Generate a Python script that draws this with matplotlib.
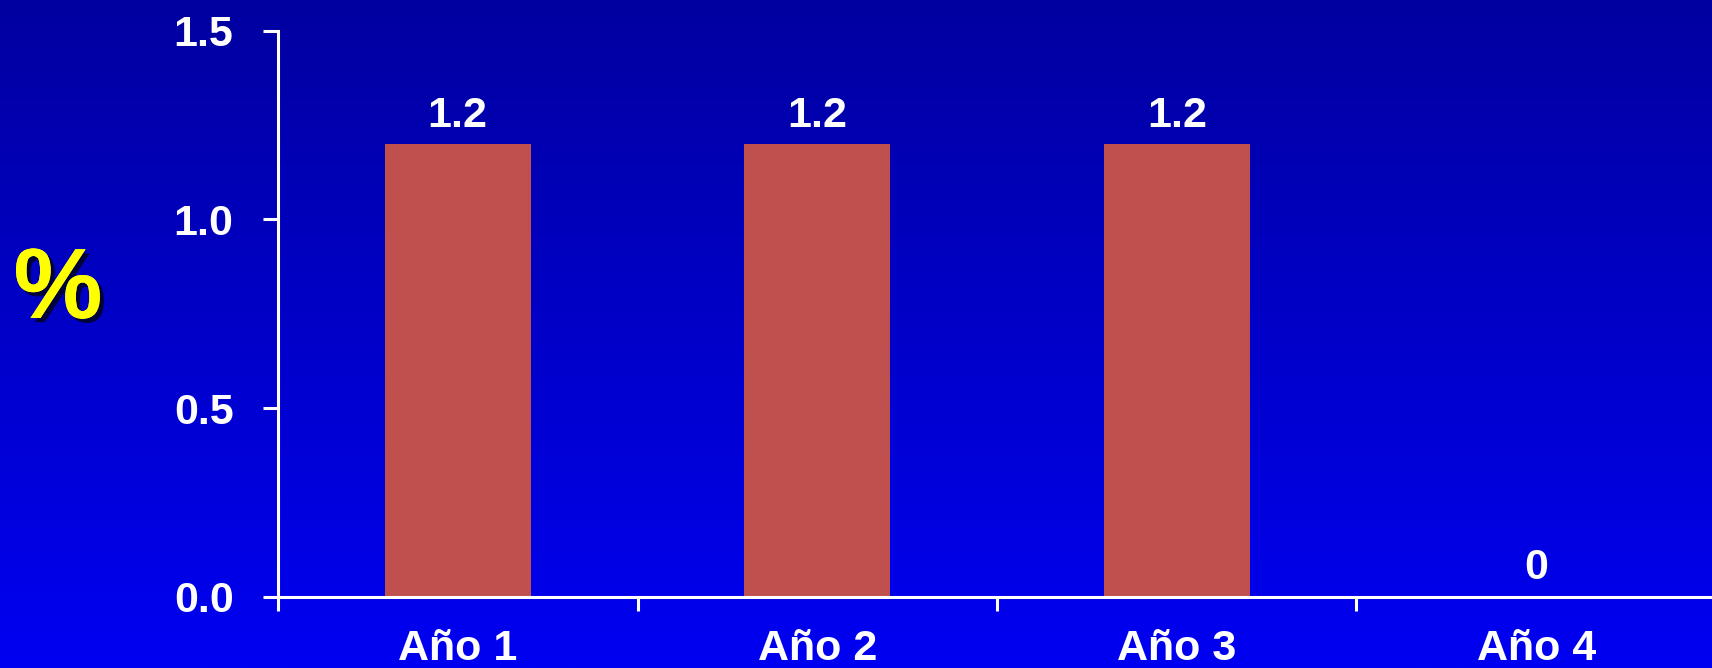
import numpy as np
import matplotlib
matplotlib.use('Agg')
import matplotlib.pyplot as plt
import matplotlib.patheffects as pe

categories = ['Año 1', 'Año 2', 'Año 3', 'Año 4']
values = [1.2, 1.2, 1.2, 0]
value_labels = ['1.2', '1.2', '1.2', '0']
yticks = [0.0, 0.5, 1.0, 1.5]

plt.rcParams['font.family'] = ['Liberation Sans', 'DejaVu Sans']
plt.rcParams['font.weight'] = 'bold'

fig = plt.figure(figsize=(17.12, 6.68), dpi=100)

# vertical blue gradient for the slide background
bg = fig.add_axes([0, 0, 1, 1], zorder=0)
grad = np.linspace(0, 1, 256).reshape(-1, 1)
top = np.array([0, 0, 160]) / 255
bottom = np.array([0, 0, 242]) / 255
img = top + (bottom - top) * grad[:, :, None]
bg.imshow(img, aspect='auto', extent=[0, 1, 0, 1], origin='upper')
bg.axis('off')

# axes run past the right edge so the baseline reaches the border
ax = fig.add_axes([278 / 1712, 1 - 596.7 / 668, 1438 / 1712, 566 / 668], zorder=1)
ax.patch.set_visible(False)

x = np.arange(len(categories)) + 0.5
ax.bar(x, values, width=0.405, color='#C0504D', zorder=2)
for xi, v, lab in zip(x, values, value_labels):
    ax.annotate(lab, (xi, v), xytext=(0, 6), textcoords='offset points',
                ha='center', va='bottom', color='white', fontsize=31, fontweight='bold')

ax.set_xlim(0, 4)
ax.set_ylim(0, 1.5)
ax.set_yticks(yticks)
ax.set_yticklabels([f'{t:.1f}' for t in yticks])
ax.set_xticks([0, 1, 2, 3])
ax.set_xticklabels([])
ax.set_xticks(x, minor=True)
ax.set_xticklabels(categories, minor=True)

for s in ['top', 'right']:
    ax.spines[s].set_visible(False)
for s in ['left', 'bottom']:
    ax.spines[s].set_color('white')
    ax.spines[s].set_linewidth(2.2)

ax.tick_params(axis='y', colors='white', labelsize=31, width=2.2, length=11, pad=21)
ax.tick_params(axis='x', which='major', colors='white', width=2.2, length=10, direction='out')
ax.tick_params(axis='x', which='minor', colors='white', labelsize=31, length=0, pad=23.5)
for lab in ax.get_yticklabels() + ax.get_xticklabels(minor=True):
    lab.set_fontweight('bold')

fig.text(58 / 1712, 1 - 292 / 668, '%', color='#FFFF00', fontsize=72, fontweight='bold',
         ha='center', va='center', zorder=3,
         path_effects=[pe.withSimplePatchShadow(offset=(3, -3), shadow_rgbFace='black', alpha=0.7),
                       pe.Normal()])

fig.savefig('out.png', dpi=100)
